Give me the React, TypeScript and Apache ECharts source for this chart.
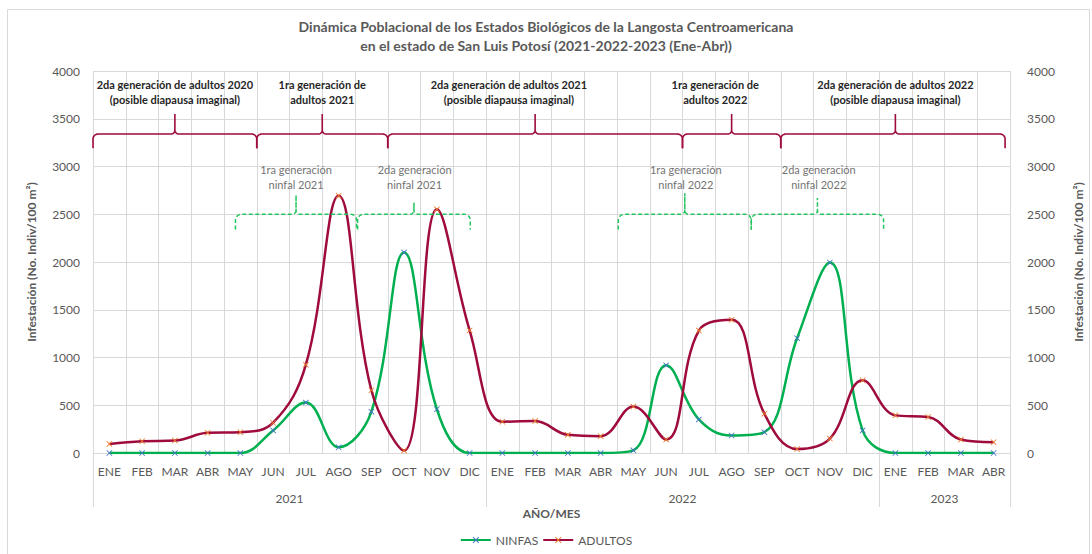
import React, { useEffect, useRef } from 'react';
import * as echarts from 'echarts';

// ---------- data ----------
const MONTHS = ['ENE', 'FEB', 'MAR', 'ABR', 'MAY', 'JUN', 'JUL', 'AGO', 'SEP', 'OCT', 'NOV', 'DIC'];
const YEARS = ['2021', '2022', '2023'];
const MONTHS_PER_YEAR = [12, 12, 4];
const CATEGORIES = MONTHS_PER_YEAR.flatMap((n) => MONTHS.slice(0, n));

const NINFAS = [
  0, 0, 0, 0, 0, 236, 528, 60, 433, 2100, 458, 0,
  0, 0, 0, 0, 28, 920, 352, 183, 218, 1202, 1995, 236,
  0, 0, 0, 0,
];
const ADULTOS = [
  95, 123, 130, 211, 218, 317, 925, 2695, 657, 25, 2552, 1284,
  327, 334, 190, 176, 486, 141, 1282, 1394, 412, 42, 151, 762,
  394, 377, 141, 113,
];

const Y_MIN = 0;
const Y_MAX = 4000;
const Y_INTERVAL = 500;

// annotation braces (category-index units, axis values)
const ADULT_BRACES = [
  { from: -0.5, to: 4.5, tip: 2, labelAt: 2, label: '2da generación de adultos 2020\n(posible diapausa imaginal)' },
  { from: 4.5, to: 8.5, tip: 6.5, labelAt: 6.5, label: '1ra generación de\nadultos 2021' },
  { from: 8.5, to: 17.5, tip: 13, labelAt: 12.2, label: '2da generación de adultos 2021\n(posible diapausa imaginal)' },
  { from: 17.5, to: 20.5, tip: 19, labelAt: 18.5, label: '1ra generación de\nadultos 2022' },
  { from: 20.5, to: 27.35, tip: 24, labelAt: 24, label: '2da generación de adultos 2022\n(posible diapausa imaginal)' },
];
const ADULT_BRACE_LINE = 3340;
const ADULT_BRACE_TIP = 3550;
const ADULT_BRACE_END = 3190;
const ADULT_LABEL_Y = 3775;

const NYMPH_BRACES = [
  { from: 3.85, to: 7.55, tip: 5.7, tipValue: 2700, labelAt: 5.7, label: '1ra generación\nninfal 2021' },
  { from: 7.58, to: 11.02, tip: 9.3, tipValue: 2620, labelAt: 9.32, label: '2da generación\nninfal 2021' },
  { from: 15.54, to: 19.6, tip: 17.57, tipValue: 2720, labelAt: 17.6, label: '1ra generación\nninfal 2022' },
  { from: 19.6, to: 23.64, tip: 21.62, tipValue: 2670, labelAt: 21.66, label: '2da generación\nninfal 2022' },
];
const NYMPH_BRACE_LINE = 2500;
const NYMPH_BRACE_END = 2340;
const NYMPH_LABEL_Y = 2885;

// ---------- styling ----------
const FONT = 'Lato, "Noto Sans", sans-serif';
const GRID_COLOR = '#d9d9d9';
const TEXT_COLOR = '#595959';
const GREEN = '#00b050';
const MAROON = '#9e0b3c';
const X_SYMBOL = 'path://M0,1L1,0L5,4L9,0L10,1L6,5L10,9L9,10L5,6L1,10L0,9L4,5Z';

// year group geometry from month counts
const yearStarts: number[] = [];
MONTHS_PER_YEAR.reduce((acc, n) => {
  yearStarts.push(acc);
  return acc + n;
}, 0);
const YEAR_CENTERS = MONTHS_PER_YEAR.map((n, i) => yearStarts[i] + (n - 1) / 2);
const YEAR_BOUNDS = [-0.5, ...MONTHS_PER_YEAR.map((n, i) => yearStarts[i] + n - 0.5)];
const YEAR_AXIS_DEPTH = 54;

function arcPts(cx: number, cy: number, r: number, a0: number, a1: number): number[][] {
  const pts: number[][] = [];
  const steps = 8;
  for (let k = 0; k <= steps; k++) {
    const a = ((a0 + ((a1 - a0) * k) / steps) * Math.PI) / 180;
    pts.push([cx + r * Math.cos(a), cy + r * Math.sin(a)]);
  }
  return pts;
}

function bracePoints(xa: number, xb: number, xc: number, yL: number, yT: number, yE: number, r: number, rt: number) {
  const pts: number[][] = [];
  pts.push([xa, yE]);
  pts.push(...arcPts(xa + r, yL + r, r, 180, 270));
  pts.push(...arcPts(xc - rt, yL - rt, rt, 90, 0));
  pts.push([xc, yT]);
  pts.push(...arcPts(xc + rt, yL - rt, rt, 180, 90));
  pts.push(...arcPts(xb - r, yL + r, r, 270, 360));
  pts.push([xb, yE]);
  return pts;
}

export default function App() {
  const ref = useRef<HTMLDivElement>(null);

  useEffect(() => {
    if (!ref.current) return;
    const chart = echarts.init(ref.current, undefined, { renderer: 'svg' });

    const yAxisCommon = {
      type: 'value' as const,
      min: Y_MIN,
      max: Y_MAX,
      interval: Y_INTERVAL,
      name: 'Infestación (No. Indiv/100 m²)',
      nameLocation: 'middle' as const,
      nameRotate: 90,
      nameTextStyle: { color: TEXT_COLOR, fontSize: 12, fontWeight: 'bold' as const, fontFamily: FONT },
      axisLine: { show: false },
      axisTick: { show: false },
      axisLabel: { color: TEXT_COLOR, fontSize: 12, fontFamily: FONT, formatter: (v: number) => String(v) },
    };

    chart.setOption({
      animation: false,
      backgroundColor: '#ffffff',
      textStyle: { fontFamily: FONT },
      title: {
        text: 'Dinámica Poblacional de los Estados Biológicos de la Langosta Centroamericana\nen el estado de San Luis Potosí (2021-2022-2023 (Ene-Abr))',
        left: 'center',
        top: 12,
        textStyle: { color: TEXT_COLOR, fontSize: 14, fontWeight: 'bold', lineHeight: 19, fontFamily: FONT },
      },
      grid: { left: 93, right: 81, top: 71, bottom: 101, containLabel: false },
      legend: {
        bottom: 3,
        left: 'center',
        itemWidth: 30,
        itemHeight: 8,
        itemGap: 4,
        textStyle: { color: TEXT_COLOR, fontSize: 12, fontFamily: FONT },
        data: ['NINFAS', 'ADULTOS'],
      },
      xAxis: [
        {
          type: 'category',
          data: CATEGORIES,
          boundaryGap: true,
          name: 'AÑO/MES',
          nameLocation: 'middle',
          nameGap: 54,
          nameTextStyle: { color: TEXT_COLOR, fontSize: 12, fontWeight: 'bold', fontFamily: FONT },
          axisLine: { show: true, lineStyle: { color: GRID_COLOR } },
          axisTick: { show: false },
          axisLabel: { color: TEXT_COLOR, fontSize: 12, margin: 12, interval: 0, fontFamily: FONT },
          splitLine: { show: true, interval: 0, lineStyle: { color: GRID_COLOR } },
        },
        {
          type: 'value',
          min: -0.5,
          max: CATEGORIES.length - 0.5,
          position: 'bottom',
          offset: YEAR_AXIS_DEPTH,
          axisLine: { show: false },
          splitLine: { show: false },
          axisTick: { show: false },
          axisLabel: {
            show: true,
            inside: true,
            margin: 3,
            customValues: YEAR_CENTERS,
            color: TEXT_COLOR,
            fontSize: 12,
            fontFamily: FONT,
            formatter: (v: number) => {
              const i = YEAR_CENTERS.findIndex((c) => Math.abs(c - v) < 1e-6);
              return i >= 0 ? YEARS[i] : '';
            },
          },
        },
      ],
      yAxis: [
        {
          ...yAxisCommon,
          position: 'left',
          nameGap: 56,
          axisLabel: { ...yAxisCommon.axisLabel, margin: 13 },
          splitLine: { show: true, lineStyle: { color: GRID_COLOR } },
        },
        {
          ...yAxisCommon,
          position: 'right',
          nameGap: 62,
          axisLabel: { ...yAxisCommon.axisLabel, margin: 17 },
          splitLine: { show: false },
        },
      ],
      series: [
        {
          name: 'NINFAS',
          type: 'line',
          xAxisIndex: 0,
          yAxisIndex: 0,
          data: NINFAS,
          smooth: 0.4,
          symbol: X_SYMBOL,
          symbolSize: 6,
          showAllSymbol: true,
          lineStyle: { color: GREEN, width: 2.5 },
          itemStyle: { color: '#4472c4' },
          emphasis: { disabled: true },
          silent: true,
        },
        {
          name: 'ADULTOS',
          type: 'line',
          xAxisIndex: 0,
          yAxisIndex: 0,
          data: ADULTOS,
          smooth: 0.4,
          symbol: X_SYMBOL,
          symbolSize: 6,
          showAllSymbol: true,
          lineStyle: { color: MAROON, width: 2.5 },
          itemStyle: { color: '#ed7d31' },
          emphasis: { disabled: true },
          silent: true,
        },
      ],
    });

    const px = (i: number) => chart.convertToPixel({ xAxisIndex: 1 }, i) as number;
    const py = (v: number) => chart.convertToPixel({ yAxisIndex: 0 }, v) as number;

    const elements: any[] = [
      {
        type: 'rect',
        shape: { x: 7.5, y: 9.5, width: 1082, height: 560 },
        style: { fill: 'none', stroke: GRID_COLOR, lineWidth: 1 },
        silent: true,
        z: -10,
      },
    ];

    // year separators below the month axis
    const y0 = py(Y_MIN);
    YEAR_BOUNDS.forEach((b) => {
      const x = Math.round(px(b)) + 0.5;
      elements.push({
        type: 'line',
        shape: { x1: x, y1: y0, x2: x, y2: y0 + YEAR_AXIS_DEPTH },
        style: { stroke: GRID_COLOR, lineWidth: 1 },
        silent: true,
      });
    });

    ADULT_BRACES.forEach((b) => {
      elements.push({
        type: 'polyline',
        shape: {
          points: bracePoints(px(b.from), px(b.to), px(b.tip), py(ADULT_BRACE_LINE), py(ADULT_BRACE_TIP), py(ADULT_BRACE_END), 5, 4),
        },
        style: { stroke: MAROON, lineWidth: 1.6, fill: 'none' },
        silent: true,
        z: 10,
      });
      elements.push({
        type: 'text',
        x: px(b.labelAt),
        y: py(ADULT_LABEL_Y),
        style: {
          text: b.label,
          fill: '#262626',
          fontSize: 11,
          fontWeight: 'bold',
          fontFamily: FONT,
          lineHeight: 15,
          align: 'center',
          verticalAlign: 'middle',
        },
        silent: true,
        z: 10,
      });
    });

    NYMPH_BRACES.forEach((b) => {
      elements.push({
        type: 'polyline',
        shape: {
          points: bracePoints(px(b.from), px(b.to), px(b.tip), py(NYMPH_BRACE_LINE), py(b.tipValue), py(NYMPH_BRACE_END), 6, 4),
        },
        style: { stroke: '#22c55e', lineWidth: 1.5, fill: 'none', lineDash: [4, 2.5] },
        silent: true,
        z: 10,
      });
      elements.push({
        type: 'text',
        x: px(b.labelAt),
        y: py(NYMPH_LABEL_Y),
        style: {
          text: b.label,
          fill: '#737373',
          fontSize: 11,
          fontFamily: FONT,
          lineHeight: 15,
          align: 'center',
          verticalAlign: 'middle',
        },
        silent: true,
        z: 10,
      });
    });

    chart.setOption({ graphic: { elements } });

    return () => chart.dispose();
  }, []);

  return (
    <div
      ref={ref}
      style={{ position: 'absolute', left: 0, top: 0, width: 1092, height: 554, background: '#fff' }}
    />
  );
}
